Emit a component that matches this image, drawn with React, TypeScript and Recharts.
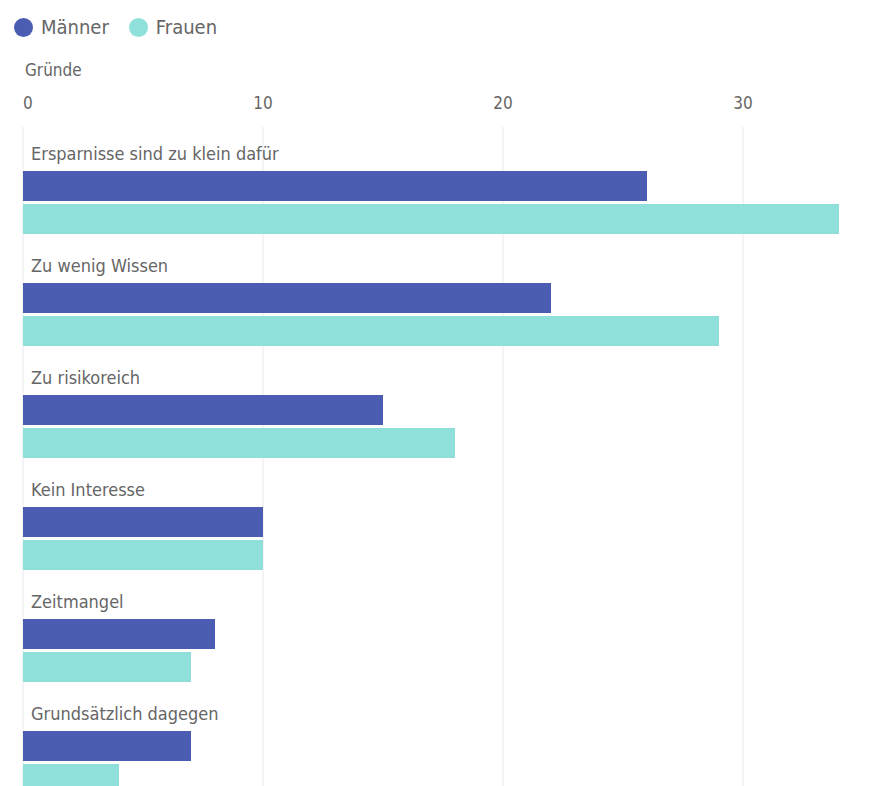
import React from "react";
import {
  BarChart,
  Bar,
  XAxis,
  YAxis,
  CartesianGrid,
  Rectangle,
} from "recharts";

const reasons = [
  "Ersparnisse sind zu klein dafür",
  "Zu wenig Wissen",
  "Zu risikoreich",
  "Kein Interesse",
  "Zeitmangel",
  "Grundsätzlich dagegen",
];
const maenner = [26, 22, 15, 10, 8, 7];
const frauen = [34, 29, 18, 10, 7, 4];
const xTicks = [0, 10, 20, 30];

const MAENNER_COLOR = "#4a5db3";
const FRAUEN_COLOR = "#8fe0da";
const TEXT_COLOR = "#666";
const FONT = '"Liberation Sans Narrow", "DejaVu Sans Condensed", Roboto, sans-serif';

const data = reasons.map((name, i) => ({
  name,
  maenner: maenner[i],
  frauen: frauen[i],
}));

// bars sit in the lower part of each band, the label above them
const shiftedBar = (props: any) => <Rectangle {...props} y={props.y + 19} />;

const renderXTick = (props: any) => {
  const { x, payload } = props;
  return (
    <text
      x={x}
      y={103}
      textAnchor={payload.value === 0 ? "start" : "middle"}
      dominantBaseline="central"
      fill={TEXT_COLOR}
      fontSize={17}
      fontFamily={FONT}
    >
      {payload.value}
    </text>
  );
};

const renderYTick = (props: any) => {
  const { y, payload } = props;
  return (
    <text
      x={31}
      y={y - 30}
      textAnchor="start"
      dominantBaseline="central"
      fill={TEXT_COLOR}
      fontSize={18}
      fontFamily={FONT}
    >
      {payload.value}
    </text>
  );
};

const LegendItem = ({ color, label }: { color: string; label: string }) => (
  <div style={{ display: "flex", alignItems: "center", marginRight: 20 }}>
    <span
      style={{
        width: 19,
        height: 19,
        borderRadius: "50%",
        background: color,
        display: "inline-block",
        marginRight: 8,
      }}
    />
    <span style={{ fontSize: 20, color: TEXT_COLOR }}>{label}</span>
  </div>
);

export default function App() {
  return (
    <div
      style={{
        position: "absolute",
        top: 0,
        left: 0,
        width: 869,
        height: 786,
        overflow: "hidden",
        background: "#fff",
        fontFamily: FONT,
      }}
    >
      <div
        style={{
          position: "absolute",
          top: 14,
          left: 14,
          display: "flex",
          alignItems: "center",
          height: 26,
        }}
      >
        <LegendItem color={MAENNER_COLOR} label="Männer" />
        <LegendItem color={FRAUEN_COLOR} label="Frauen" />
      </div>
      <div
        style={{
          position: "absolute",
          top: 59,
          left: 25,
          fontSize: 17,
          color: TEXT_COLOR,
          lineHeight: "22px",
        }}
      >
        Gründe
      </div>
      <BarChart
        width={869}
        height={800}
        data={data}
        layout="vertical"
        margin={{ top: 97, right: 6, left: 13, bottom: 1 }}
        barSize={30}
        barGap={3}
      >
        <CartesianGrid
          horizontal={false}
          stroke="#e8e8ec"
          verticalValues={xTicks}
        />
        <XAxis
          type="number"
          orientation="top"
          domain={[0, 35]}
          ticks={xTicks}
          axisLine={false}
          tickLine={false}
          height={30}
          tick={renderXTick}
          interval={0}
        />
        <YAxis
          type="category"
          dataKey="name"
          width={10}
          axisLine={false}
          tickLine={false}
          tick={renderYTick}
          interval={0}
        />
        <Bar
          dataKey="maenner"
          name="Männer"
          fill={MAENNER_COLOR}
          shape={shiftedBar}
          isAnimationActive={false}
        />
        <Bar
          dataKey="frauen"
          name="Frauen"
          fill={FRAUEN_COLOR}
          shape={shiftedBar}
          isAnimationActive={false}
        />
      </BarChart>
    </div>
  );
}
